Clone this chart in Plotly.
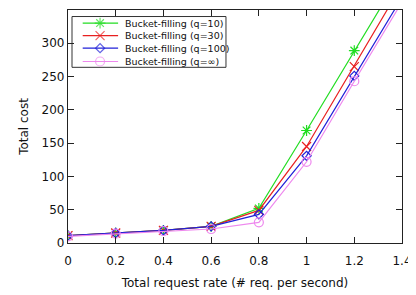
import plotly.graph_objects as go

rates = [0, 0.2, 0.4, 0.6, 0.8, 1.0, 1.2, 1.4]
cost_q10 = [11, 15, 19, 25, 52, 169, 289, 407]
cost_q30 = [11, 15, 19, 25, 49, 145, 265, 388]
cost_q100 = [11, 15, 19, 25, 43, 131, 251, 369]
cost_qinf = [10, 14, 18, 21, 31, 122, 243, 362]
names = ["Bucket-filling (q=10)", "Bucket-filling (q=30)",
         "Bucket-filling (q=100)", "Bucket-filling (q=\u221e)"]
colors = ["#22dd22", "#e82020", "#2020d8", "#ee88ee"]
symbols = ["asterisk-open", "x-thin-open", "diamond-open", "circle-open"]
sizes = [9, 9, 7, 9]
x_ticks = [0, 0.2, 0.4, 0.6, 0.8, 1, 1.2, 1.4]
x_tick_text = ["0", "0.2", "0.4", "0.6", "0.8", "1", "1.2", "1.4"]
y_ticks = [0, 50, 100, 150, 200, 250, 300, 350]

FONT = "DejaVu Sans"
fig = go.Figure()
for ys, n, c, s, sz in zip([cost_q10, cost_q30, cost_q100, cost_qinf], names, colors, symbols, sizes):
    fig.add_trace(go.Scatter(
        x=rates, y=ys, name=n, mode="lines+markers", showlegend=False,
        line=dict(color=c, width=1.2),
        marker=dict(symbol=s, size=sz, color=c, line=dict(color=c, width=1.2)),
    ))

# manual compact legend (in plot-area fractions)
leg_x0, leg_x1, leg_top, leg_bottom = 0.012, 0.473, 0.972, 0.754
row_y = [0.944, 0.890, 0.836, 0.779]
line_x0, line_x1, mark_x, text_x = 0.044, 0.150, 0.096, 0.166
fig.add_shape(type="rect", xref="x domain", yref="y domain",
              x0=leg_x0, x1=leg_x1, y0=leg_bottom, y1=leg_top,
              line=dict(color="#333", width=1), fillcolor="white", layer="below")
for i, (n, c, s, sz) in enumerate(zip(names, colors, symbols, sizes)):
    fig.add_shape(type="line", xref="x domain", yref="y domain",
                  x0=line_x0, x1=line_x1, y0=row_y[i], y1=row_y[i],
                  line=dict(color=c, width=1.2), layer="below")
    fig.add_annotation(xref="x domain", yref="y domain", x=text_x, y=row_y[i],
                       text=n, showarrow=False, xanchor="left", yanchor="middle",
                       font=dict(family=FONT, size=9.5, color="#111"))
fig.add_trace(go.Scatter(
    x=[mark_x] * 4, y=row_y, xaxis="x2", yaxis="y2", mode="markers", showlegend=False,
    hoverinfo="skip",
    marker=dict(symbol=symbols, size=sizes, color=colors,
                line=dict(color=colors, width=1.2)),
))

axis_common = dict(
    showline=True, linecolor="#222", linewidth=1.2, mirror="ticks",
    ticks="inside", ticklen=6, tickcolor="#222", tickwidth=1,
    showgrid=False, zeroline=False, automargin=False,
    tickfont=dict(family=FONT, size=12, color="#111"),
)
fig.update_layout(
    xaxis=dict(range=[0, 1.4], tickvals=x_ticks, ticktext=x_tick_text,
               ticklabelstandoff=6,
               title=dict(text="Total request rate (# req. per second)",
                          font=dict(family=FONT, size=12, color="#111"), standoff=12),
               **axis_common),
    yaxis=dict(range=[0, 350], tickvals=y_ticks,
               title=dict(text="Total cost",
                          font=dict(family=FONT, size=12, color="#111"), standoff=10),
               **axis_common),
    xaxis2=dict(overlaying="x", anchor="y2", range=[0, 1], visible=False, fixedrange=True),
    yaxis2=dict(overlaying="y", anchor="x2", range=[0, 1], visible=False, fixedrange=True),
    width=408, height=287,
    margin=dict(l=60, r=14, t=2, b=52),
    paper_bgcolor="white", plot_bgcolor="white",
    showlegend=False,
)
fig.write_html("out.html")
